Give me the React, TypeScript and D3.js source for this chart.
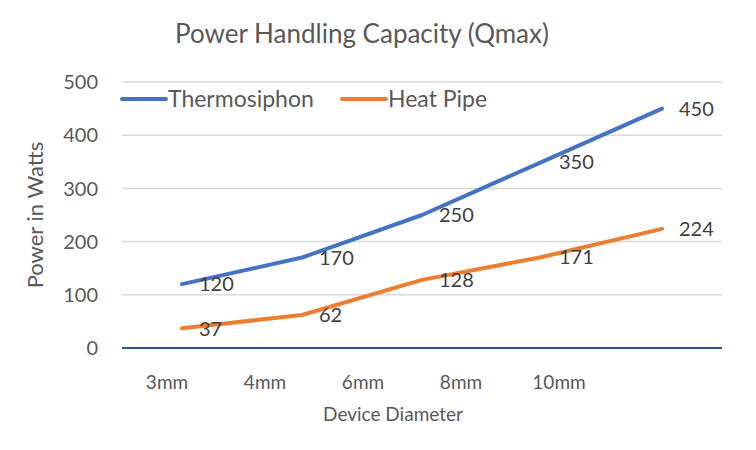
import React, { useRef, useEffect } from "react";
import * as d3 from "d3";

const categories = ["3mm", "4mm", "6mm", "8mm", "10mm"];
const thermosiphon = [120, 170, 250, 350, 450];
const heatPipe = [37, 62, 128, 171, 224];
const yTicks = [0, 100, 200, 300, 400, 500];

const seriesList = [
  { name: "Thermosiphon", values: thermosiphon, color: "#4472C4" },
  { name: "Heat Pipe", values: heatPipe, color: "#ED7D31" },
];

const App = () => {
  const svgRef = useRef<SVGSVGElement>(null);

  useEffect(() => {
    const svg = d3.select(svgRef.current);
    svg.selectAll("*").remove();

    const width = 756;
    const height = 450;
    const margin = { top: 82, right: 34, bottom: 102, left: 122 };
    const font = "Lato, 'Open Sans', sans-serif";

    svg.attr("width", width).attr("height", height).style("font-family", font);
    svg.append("rect").attr("width", width).attr("height", height).attr("fill", "#fff");

    const x = d3.scalePoint<string>()
      .domain(categories)
      .range([margin.left, width - margin.right])
      .padding(0.5);

    // category labels in the picture sit on a narrower span than the points
    const xLabel = d3.scalePoint<string>()
      .domain(categories)
      .range([118, 608])
      .padding(0.5);

    const y = d3.scaleLinear().domain([0, 500]).range([height - margin.bottom, margin.top]);

    // gridlines
    svg.append("g")
      .selectAll("line")
      .data(yTicks.filter(t => t > 0))
      .join("line")
      .attr("x1", margin.left)
      .attr("x2", width - margin.right)
      .attr("y1", d => y(d))
      .attr("y2", d => y(d))
      .attr("stroke", "#d9d9d9")
      .attr("stroke-width", 1.5);

    // y tick labels
    svg.append("g")
      .selectAll("text")
      .data(yTicks)
      .join("text")
      .attr("x", 98)
      .attr("y", d => y(d))
      .attr("dy", "0.36em")
      .attr("text-anchor", "end")
      .attr("font-size", 20)
      .attr("fill", "#595959")
      .text(d => d);

    // x axis line
    svg.append("line")
      .attr("x1", margin.left)
      .attr("x2", width - margin.right)
      .attr("y1", y(0))
      .attr("y2", y(0))
      .attr("stroke", "#2F5597")
      .attr("stroke-width", 2);

    svg.append("g")
      .selectAll("text")
      .data(categories)
      .join("text")
      .attr("x", d => xLabel(d)!)
      .attr("y", 389)
      .attr("text-anchor", "middle")
      .attr("font-size", 19)
      .attr("fill", "#595959")
      .text(d => d);

    // titles
    svg.append("text")
      .attr("x", 362)
      .attr("y", 43)
      .attr("text-anchor", "middle")
      .attr("font-size", 26)
      .attr("fill", "#595959")
      .text("Power Handling Capacity (Qmax)");

    svg.append("text")
      .attr("x", 393)
      .attr("y", 421)
      .attr("text-anchor", "middle")
      .attr("font-size", 19)
      .attr("fill", "#595959")
      .text("Device Diameter");

    svg.append("text")
      .attr("transform", `translate(43,${(y(0) + y(500)) / 2}) rotate(-90)`)
      .attr("text-anchor", "middle")
      .attr("font-size", 22)
      .attr("fill", "#595959")
      .text("Power in Watts");

    const line = d3.line<number>()
      .x((_, i) => x(categories[i])!)
      .y(d => y(d));

    seriesList.forEach(s => {
      svg.append("path")
        .datum(s.values)
        .attr("d", line)
        .attr("fill", "none")
        .attr("stroke", s.color)
        .attr("stroke-width", 4)
        .attr("stroke-linecap", "round")
        .attr("stroke-linejoin", "round");

      svg.append("g")
        .selectAll("text")
        .data(s.values)
        .join("text")
        .attr("x", (_, i) => x(categories[i])! + 17)
        .attr("y", d => y(d))
        .attr("dy", "0.36em")
        .attr("font-size", 20)
        .attr("fill", "#404040")
        .text(d => d);
    });

    // legend
    const legendX = [122, 342];
    const legend = svg.append("g")
      .selectAll("g")
      .data(seriesList)
      .join("g")
      .attr("transform", (_, i) => `translate(${legendX[i]},99)`);
    legend.append("line")
      .attr("x1", 0)
      .attr("x2", 44)
      .attr("stroke", d => d.color)
      .attr("stroke-width", 4)
      .attr("stroke-linecap", "round");
    legend.append("text")
      .attr("x", 46)
      .attr("dy", "0.36em")
      .attr("font-size", 23)
      .attr("fill", "#595959")
      .text(d => d.name);
  }, []);

  return (
    <div style={{ position: "absolute", top: 0, left: 0 }}>
      <svg ref={svgRef}></svg>
    </div>
  );
};

export default App;
